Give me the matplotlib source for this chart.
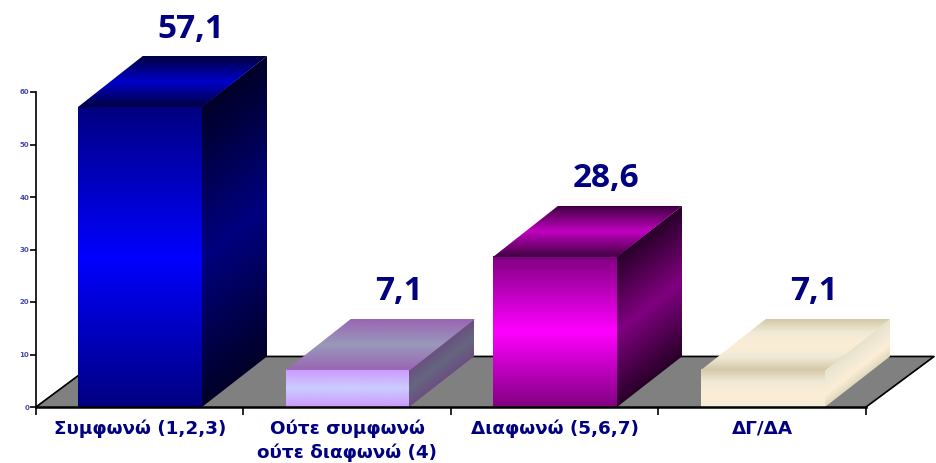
import numpy as np
import matplotlib
matplotlib.use("Agg")
import matplotlib.pyplot as plt
from matplotlib.colors import LinearSegmentedColormap
from matplotlib.transforms import Affine2D

categories = ["Συμφωνώ (1,2,3)", "Ούτε συμφωνώ\nούτε διαφωνώ (4)", "Διαφωνώ (5,6,7)", "ΔΓ/ΔΑ"]
values = [57.1, 7.1, 28.6, 7.1]
value_labels = ["57,1", "7,1", "28,6", "7,1"]
y_ticks = [0, 10, 20, 30, 40, 50, 60]

# gradient stops for each bar, bottom to top (evenly spaced)
front_cols = [["#000080", "#0000ff", "#000080"], ["#cc99ff", "#ccccff", "#cc99ff"],
              ["#800080", "#ff00ff", "#800080"], ["#f3edd8", "#fdeed6", "#efe9d5", "#d4c8a8"]]
side_cols = [["#000028", "#000080", "#000028"], ["#6a4f80", "#666680", "#6a4f80"],
             ["#280028", "#800080", "#280028"], ["#e0d8c0", "#fdeed6", "#efe9d5", "#e8e2cc"]]
top_cols = [["#000040", "#0000c8", "#000040"], ["#9966b3", "#9999bb", "#9966b3"],
            ["#400040", "#c000c0", "#400040"], ["#d4c8a8", "#efe9d5", "#fdeed6", "#efe9d5", "#d4c8a8"]]

W, H = 937, 463
X0, X1 = 36, 866
Y0, Y60 = 407, 92
NAVY = "#000080"

fig = plt.figure(figsize=(W / 100, H / 100), dpi=100)
ax = fig.add_axes([X0 / W, 1 - Y0 / H, (X1 - X0) / W, (Y0 - Y60) / H])

# depth of the fake 3D, in data units
dx = 64.5 / ((X1 - X0) / 4)
dy = 50.5 / ((Y0 - Y60) / 60)
floor_dx = 68 / ((X1 - X0) / 4)
bar_lo, bar_w = 0.204, 0.596


def face(origin, u, v, cols):
    # parallelogram from origin along u and v, gradient runs along v
    cmap = LinearSegmentedColormap.from_list("g", cols, N=1024)
    grad = cmap(np.linspace(0, 1, 512))[:, None, :]
    tr = Affine2D.from_values(u[0], u[1], v[0], v[1], origin[0], origin[1]) + ax.transData
    ax.imshow(grad, extent=(0, 1, 0, 1), origin="lower", aspect="auto", interpolation="bilinear",
              transform=tr, clip_on=False, zorder=3)


# floor
ax.fill([0, 4, 4 + floor_dx, floor_dx], [0, 0, dy, dy], color="#808080", clip_on=False, zorder=1)
ax.plot([0, floor_dx, 4 + floor_dx, 4], [0, dy, dy, 0], color="black", lw=1.2, clip_on=False, zorder=2)

for i, val in enumerate(values):
    l = i + bar_lo
    r = l + bar_w
    face((l, 0), (bar_w, 0), (0, val), front_cols[i])
    face((r, 0), (dx, dy), (0, val), side_cols[i])
    face((l, val), (bar_w, 0), (dx, dy), top_cols[i])
    ax.annotate(value_labels[i], (i + 0.505 + dx * 0.78, val + dy), xytext=(0, 8), textcoords="offset points",
                ha="center", va="bottom", color=NAVY, fontsize=24, fontweight="bold",
                family="Open Sans", annotation_clip=False, zorder=4)

ax.set_xlim(0, 4)
ax.set_ylim(0, 60)

for s in ["top", "right"]:
    ax.spines[s].set_visible(False)
ax.spines["left"].set_linewidth(1.2)
ax.spines["bottom"].set_linewidth(1.8)
ax.spines["left"].set_zorder(5)
ax.spines["bottom"].set_zorder(5)

ax.set_yticks(y_ticks)
ax.tick_params(axis="y", length=4, width=1.2, labelsize=5, labelcolor="#4848b0", pad=1)
for t in ax.get_yticklabels():
    t.set_fontweight("bold")

ax.set_xticks(range(5))
ax.set_xticklabels([])
ax.tick_params(axis="x", length=6, width=1.2)
ax.set_xticks(np.arange(4) + 0.5, labels=categories, minor=True)
ax.tick_params(axis="x", which="minor", length=0, labelsize=13.2, labelcolor=NAVY, pad=9)
for t in ax.get_xticklabels(minor=True):
    t.set_fontweight("bold")
    t.set_linespacing(1.35)

fig.savefig("out.png", dpi=100)
